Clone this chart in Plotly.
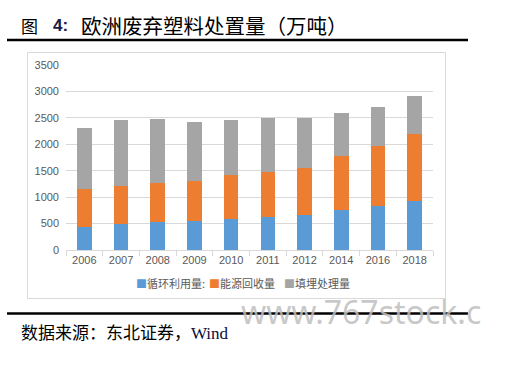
import plotly.graph_objects as go

years = ["2006", "2007", "2008", "2009", "2010", "2011", "2012", "2014", "2016", "2018"]
series_names = ["循环利用量:", "能源回收量", "填埋处理量"]
recycling = [440, 500, 525, 545, 595, 625, 660, 765, 840, 935]
energy = [710, 710, 750, 760, 825, 855, 890, 1020, 1135, 1255]
landfill = [1150, 1245, 1210, 1115, 1045, 1020, 950, 805, 725, 720]
colors = ["#5B9BD5", "#ED7D31", "#A5A5A5"]
y_ticks = [0, 500, 1000, 1500, 2000, 2500, 3000, 3500]

W, H = 506, 374
L, R, T, B = 66, 433, 65, 250  # plot area in pixels


def px(x):
    return (x - L) / (R - L)


def py(y):
    return (B - y) / (B - T)


fig = go.Figure()
for name, vals, c in zip(series_names, [recycling, energy, landfill], colors):
    fig.add_trace(go.Bar(x=years, y=vals, name=name, marker=dict(color=c, line=dict(width=0)),
                         showlegend=False))

fig.update_layout(
    width=W, height=H,
    margin=dict(l=L, r=W - R, t=T, b=H - B, pad=0),
    barmode="stack", bargap=0.6,
    plot_bgcolor="white", paper_bgcolor="white",
    font=dict(family="Noto Sans CJK SC, Noto Sans", size=11, color="#595959"),
    xaxis=dict(type="category", showgrid=False, showline=True, linecolor="#D9D9D9", linewidth=1,
               ticks="outside", tickson="boundaries", ticklen=5, tickcolor="#D9D9D9",
               tickfont=dict(family="Liberation Sans, Noto Sans", size=11, color="#595959")),
    yaxis=dict(range=[0, 3500], tickvals=y_ticks, showgrid=True, gridcolor="#D9D9D9", gridwidth=1,
               zeroline=False, showline=False, ticks="", ticklabelstandoff=6,
               tickfont=dict(family="Liberation Sans, Noto Sans", size=11, color="#595959")),
)

shapes = [
    dict(type="rect", xref="paper", yref="paper", x0=px(27.5), x1=px(445.5), y0=py(52.5), y1=py(298.5),
         line=dict(color="#D9D9D9", width=1), fillcolor="rgba(0,0,0,0)", layer="below"),
    dict(type="line", xref="paper", yref="paper", x0=px(7), x1=px(468), y0=py(40), y1=py(40),
         line=dict(color="black", width=2.5)),
    dict(type="line", xref="paper", yref="paper", x0=px(7), x1=px(468), y0=py(313.5), y1=py(313.5),
         line=dict(color="black", width=2.5)),
]
fig.update_layout(shapes=shapes)

ann = []
# watermark
ann.append(dict(text="www.767stock.c", xref="paper", yref="paper", x=px(239), y=py(311),
                xanchor="left", yanchor="middle", showarrow=False,
                font=dict(family="Noto Sans", size=32, color="rgba(190,190,190,0.85)")))
# title pieces
ann.append(dict(text="图", xref="paper", yref="paper", x=px(19), y=py(25), xanchor="left", yanchor="middle",
                showarrow=False, font=dict(family="Noto Sans CJK SC", size=17, color="#000000")))
ann.append(dict(text="<b>4:</b>", xref="paper", yref="paper", x=px(51), y=py(25), xanchor="left",
                yanchor="middle", showarrow=False,
                font=dict(family="Liberation Sans", size=17, color="#1a1a4a")))
ann.append(dict(text="欧洲废弃塑料处置量（万吨）", xref="paper", yref="paper", x=px(79), y=py(25),
                xanchor="left", yanchor="middle", showarrow=False,
                font=dict(family="Noto Sans CJK SC", size=20.5, color="#000000")))
# source
ann.append(dict(text="数据来源：东北证券，<span style='font-family:Liberation Serif;color:#0b0b3a'>Wind</span>",
                xref="paper", yref="paper", x=px(19), y=py(331), xanchor="left", yanchor="middle",
                showarrow=False, font=dict(family="Noto Sans CJK SC", size=17, color="#000000")))
# legend
for xpos, name, c in zip([134, 207, 282], series_names, colors):
    ann.append(dict(text=f"<span style='color:{c}'>■</span>{name}", xref="paper", yref="paper",
                    x=px(xpos), y=py(283), xanchor="left", yanchor="middle", showarrow=False,
                    font=dict(family="Noto Sans CJK SC", size=11, color="#595959")))
fig.update_layout(annotations=ann)

fig.write_html("out.html", config={"displayModeBar": False},
               post_script="document.body.style.margin='0px';")
